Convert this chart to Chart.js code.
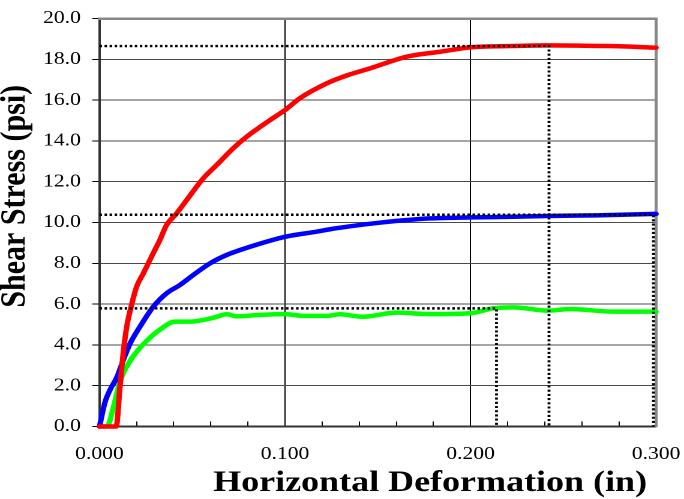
<!DOCTYPE html>
<html><head><meta charset="utf-8">
<script src="https://cdn.jsdelivr.net/npm/chart.js@4/dist/chart.umd.min.js"></script>
<style>
html,body{margin:0;padding:0;background:#fff;overflow:hidden;width:684px;height:499px;}
#wrap{position:absolute;left:0;top:0;width:570px;height:499px;transform:scaleX(1.2);transform-origin:0 0;}
</style></head><body>
<div id="wrap"><canvas id="c" width="570" height="499"></canvas></div>
<script>
// ---- data ----
const redX = [0, 0.009, 0.011, 0.0128, 0.0147, 0.0174, 0.020, 0.0236, 0.029, 0.0326, 0.036, 0.0416, 0.047, 0.056, 0.0632, 0.0721, 0.0794, 0.0919, 0.100, 0.108, 0.1225, 0.134, 0.146, 0.1656, 0.1836, 0.2006, 0.223, 0.241, 0.258, 0.275, 0.300];
const redY = [0, 0, 1.9, 3.6, 4.9, 6.0, 6.85, 7.5, 8.5, 9.15, 9.85, 10.45, 11.1, 12.17, 12.82, 13.64, 14.21, 15.02, 15.51, 16.09, 16.82, 17.23, 17.56, 18.13, 18.37, 18.59, 18.65, 18.68, 18.67, 18.65, 18.57];

const blueX = [0, 0.003, 0.0057, 0.0093, 0.0128, 0.0164, 0.0218, 0.029, 0.0362, 0.0434, 0.0506, 0.0596, 0.0686, 0.0811, 0.100, 0.117, 0.1243, 0.134, 0.151, 0.178, 0.2006, 0.223, 0.242, 0.268, 0.300];
const blueY = [0, 1.2, 1.8, 2.4, 3.25, 4.05, 4.89, 5.87, 6.53, 6.94, 7.43, 8.0, 8.41, 8.81, 9.3, 9.55, 9.67, 9.8, 9.99, 10.2, 10.25, 10.28, 10.32, 10.35, 10.42];

const greenX = [0, 0.004, 0.0074, 0.011, 0.0164, 0.0218, 0.0272, 0.0326, 0.0407, 0.0488, 0.0614, 0.0686, 0.074, 0.0865, 0.100, 0.110, 0.1225, 0.1296, 0.142, 0.160, 0.178, 0.2006, 0.212, 0.223, 0.242, 0.2536, 0.277, 0.300];
const greenY = [0, 0, 0.9, 2.2, 3.2, 3.85, 4.35, 4.75, 5.14, 5.14, 5.33, 5.5, 5.4, 5.47, 5.51, 5.42, 5.42, 5.5, 5.38, 5.58, 5.51, 5.56, 5.79, 5.84, 5.68, 5.76, 5.63, 5.63];

// dotted guide lines: peak stress level and the deformation where it is read
const guideStress = [18.65, 10.38, 5.79];
const guideDeform = [0.2423, 0.2986, 0.214];

const xMajorTicks = [0.0, 0.1, 0.2, 0.3];
const yTicks = [0, 2, 4, 6, 8, 10, 12, 14, 16, 18, 20];

// ---- build chart ----
const pts = (xs, ys) => xs.map((x, i) => ({x: x, y: ys[i]}));
const FONT = "'Liberation Serif', 'Times New Roman', Times, serif";
const isMajor = v => xMajorTicks.some(t => Math.abs(t - v) < 1e-9);
const noPad = s => { s.paddingLeft = 0; s.paddingRight = 0; s.paddingTop = 0; s.paddingBottom = 0; };

const guideSets = guideStress.map((s, i) => ({
  data: [{x: 0, y: s}, {x: guideDeform[i], y: s}, {x: guideDeform[i], y: 0}],
  borderColor: '#000', borderWidth: 2.4, borderDash: [2.1, 2.1], borderCapStyle: 'butt',
  pointRadius: 0, tension: 0, clip: 3
}));

const curve = (xs, ys, color) => ({
  data: pts(xs, ys), borderColor: color, borderWidth: 4.5, pointRadius: 0,
  cubicInterpolationMode: 'monotone', borderJoinStyle: 'round', borderCapStyle: 'round', clip: 6
});

new Chart(document.getElementById('c'), {
  type: 'line',
  data: {
    datasets: [
      ...guideSets,
      curve(redX, redY, '#ff0000'),
      curve(blueX, blueY, '#0000ff'),
      curve(greenX, greenY, '#00ff00')
    ]
  },
  options: {
    responsive: false,
    devicePixelRatio: 2,
    animation: false,
    layout: {padding: 0, autoPadding: false},
    plugins: {legend: {display: false}, tooltip: {enabled: false}},
    scales: {
      x: {
        type: 'linear', position: 'bottom', min: 0, max: 0.3,
        afterFit: s => { s.height = 72.5; noPad(s); },
        ticks: {
          stepSize: 0.02, autoSkip: false, maxRotation: 0, minRotation: 0,
          color: '#000', padding: 22, font: {family: FONT, size: 18},
          callback: v => isMajor(v) ? Number(v).toFixed(3) : ''
        },
        grid: {
          color: c => { const v = c.tick ? c.tick.value : 0; return (isMajor(v) && v > 1e-9 && v < 0.3 - 1e-9) ? '#000' : 'rgba(0,0,0,0)'; },
          tickColor: '#000', tickLength: -5, lineWidth: 1, tickWidth: 1
        },
        border: {color: '#333', width: 2},
        title: {display: true, text: 'Horizontal Deformation (in) ', align: 'end', color: '#000',
          font: {family: FONT, size: 30, weight: 'bold', lineHeight: 1}, padding: {top: 0, bottom: 1}}
      },
      y: {
        type: 'linear', position: 'left', min: 0, max: 20,
        afterFit: s => { s.width = 82.9; noPad(s); },
        afterBuildTicks: s => { s.ticks = yTicks.map(v => ({value: v})); },
        ticks: {color: '#000', padding: 9.5, font: {family: FONT, size: 18},
          callback: v => Number(v).toFixed(1)},
        grid: {
          color: c => { const v = c.tick ? c.tick.value : 0; return (v === 0 || v === 20) ? 'rgba(0,0,0,0)' : '#4a4a4a'; },
          tickColor: '#000', tickLength: 6, lineWidth: 1
        },
        border: {color: '#333', width: 2},
        title: {display: true, text: '       Shear Stress (psi)', color: '#000',
          font: {family: FONT, size: 30, weight: 'bold', lineHeight: 0.84}, padding: {top: 0, bottom: 0}}
      },
      xTop: {
        type: 'linear', position: 'top', min: 0, max: 0.3,
        afterFit: s => { s.height = 18.5; noPad(s); },
        ticks: {display: false}, grid: {display: false, drawTicks: false},
        border: {color: '#888', width: 2.5}
      },
      yRight: {
        type: 'linear', position: 'right', min: 0, max: 20,
        afterFit: s => { s.width = 23.3; noPad(s); },
        ticks: {display: false}, grid: {display: false, drawTicks: false},
        border: {color: '#888', width: 2.5}
      }
    }
  }
});
</script>
</body></html>
